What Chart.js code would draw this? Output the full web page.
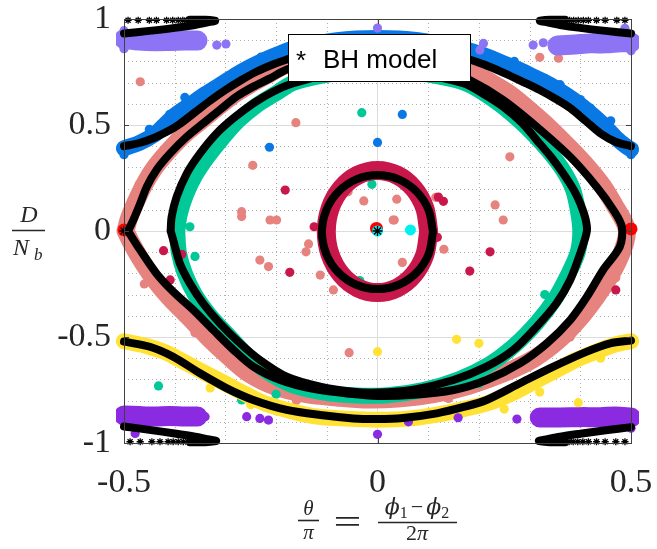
<!DOCTYPE html>
<html><head><meta charset="utf-8">
<script src="https://cdn.jsdelivr.net/npm/chart.js@4.4.1/dist/chart.umd.min.js"></script>
<style>html,body{margin:0;padding:0;background:#fff;}canvas{display:block;}</style>
</head><body>
<canvas id="c" width="657" height="549"></canvas>
<script>
// ---- tick labels ----
const xTicks = [-0.5, 0, 0.5];
const yTicks = [-1, -0.5, 0, 0.5, 1];
const legendLabel = 'BH model';

// ---- BH model curves (black asterisks) ----
const bhBlue = [[-0.5,0.40],[-0.47,0.415],[-0.44,0.44],[-0.41,0.475],[-0.39,0.505],[-0.36,0.56],[-0.33,0.615],[-0.30,0.665],[-0.27,0.71],[-0.24,0.75],[-0.21,0.782],[-0.18,0.808],[-0.12,0.85],[-0.06,0.875],[0,0.883],[0.06,0.875],[0.12,0.85],[0.18,0.81],[0.21,0.785],[0.25,0.745],[0.29,0.70],[0.32,0.665],[0.35,0.625],[0.38,0.58],[0.41,0.52],[0.44,0.46],[0.47,0.42],[0.5,0.40]];
const bhPink = [[-0.492,0.0],[-0.482,0.05],[-0.468,0.13],[-0.455,0.209],[-0.436,0.288],[-0.409,0.366],[-0.376,0.445],[-0.344,0.508],[-0.311,0.571],[-0.278,0.634],[-0.245,0.681],[-0.212,0.72],[-0.179,0.762],[-0.12,0.80],[-0.06,0.82],[0,0.82],[0.06,0.805],[0.12,0.77],[0.182,0.712],[0.248,0.618],[0.314,0.492],[0.38,0.35],[0.432,0.209],[0.465,0.10],[0.482,0.02],[0.478,-0.074],[0.445,-0.184],[0.413,-0.31],[0.38,-0.42],[0.334,-0.53],[0.281,-0.624],[0.215,-0.703],[0.15,-0.75],[0.064,-0.774],[0,-0.778],[-0.054,-0.768],[-0.127,-0.745],[-0.192,-0.703],[-0.245,-0.64],[-0.284,-0.561],[-0.324,-0.467],[-0.363,-0.373],[-0.403,-0.286],[-0.436,-0.2],[-0.468,-0.09],[-0.492,0.0]];
const bhGreen = [[-0.408,0.0],[-0.406,0.067],[-0.396,0.162],[-0.376,0.272],[-0.35,0.366],[-0.317,0.461],[-0.284,0.532],[-0.245,0.602],[-0.206,0.657],[-0.166,0.697],[-0.1,0.735],[0,0.752],[0.08,0.74],[0.169,0.697],[0.21,0.645],[0.248,0.586],[0.285,0.51],[0.314,0.429],[0.342,0.35],[0.366,0.272],[0.388,0.19],[0.40,0.13],[0.41,0.06],[0.413,0.0],[0.40,-0.105],[0.38,-0.231],[0.353,-0.341],[0.314,-0.451],[0.268,-0.561],[0.215,-0.64],[0.15,-0.703],[0.071,-0.748],[0,-0.762],[-0.048,-0.758],[-0.113,-0.734],[-0.179,-0.687],[-0.232,-0.608],[-0.271,-0.53],[-0.311,-0.435],[-0.344,-0.341],[-0.37,-0.247],[-0.39,-0.152],[-0.403,-0.042],[-0.408,0.0]];
const bhInner = [[0.1095,-0.005],[0.101,0.098],[0.0774,0.185],[0.0419,0.2435],[0,0.264],[-0.0419,0.2435],[-0.0774,0.185],[-0.101,0.098],[-0.1095,-0.005],[-0.101,-0.108],[-0.0774,-0.195],[-0.0419,-0.2535],[0,-0.274],[0.0419,-0.2535],[0.0774,-0.195],[0.101,-0.108],[0.1095,-0.005]];
const bhYellow = [[-0.5,-0.522],[-0.449,-0.546],[-0.403,-0.593],[-0.35,-0.671],[-0.297,-0.742],[-0.245,-0.797],[-0.179,-0.844],[-0.113,-0.868],[-0.048,-0.884],[0.0,-0.887],[0.05,-0.882],[0.117,-0.86],[0.17,-0.83],[0.215,-0.797],[0.281,-0.718],[0.347,-0.64],[0.413,-0.569],[0.459,-0.53],[0.5,-0.517]];
const bhTopL = [[-0.5,0.932],[-0.45,0.944],[-0.40,0.958],[-0.36,0.972],[-0.335,0.984],[-0.32,0.992],[-0.34,0.996],[-0.37,0.996]];
const bhTopR = [[0.5,0.932],[0.45,0.944],[0.40,0.958],[0.36,0.972],[0.335,0.984],[0.32,0.992],[0.34,0.996],[0.37,0.996]];
const bhBotL = [[-0.5,-0.922],[-0.45,-0.938],[-0.40,-0.955],[-0.36,-0.97],[-0.335,-0.982],[-0.318,-0.991],[-0.34,-0.996],[-0.37,-0.996]];
const bhBotR = [[0.5,-0.925],[0.45,-0.94],[0.40,-0.956],[0.36,-0.97],[0.335,-0.982],[0.318,-0.991],[0.34,-0.996],[0.37,-0.996]];
const bhEdgeStars = [[-0.492,0.994],[-0.472,0.994],[-0.45,0.994],[-0.436,0.994],[-0.416,0.994],[-0.404,0.994],[-0.393,0.994],[-0.384,0.994],[-0.376,0.994],
  [0.488,0.994],[0.472,0.994],[0.449,0.994],[0.432,0.994],[0.416,0.994],[0.406,0.994],[0.396,0.994],[0.387,0.994],[0.379,0.994],
  [-0.488,-0.994],[-0.468,-0.994],[-0.445,-0.994],[-0.429,-0.994],[-0.413,-0.994],[-0.403,-0.994],[-0.393,-0.994],[-0.383,-0.994],[-0.374,-0.994],
  [0.488,-0.994],[0.47,-0.994],[0.449,-0.994],[0.432,-0.994],[0.416,-0.994],[0.405,-0.994],[0.395,-0.994],[0.386,-0.994],[0.378,-0.994]];
const bhFixed = [[0,0],[-0.5,0]];

// ---- simulation bands and scattered points ----
const blueBand = [[-0.5,0.39],[-0.47,0.415],[-0.44,0.455],[-0.42,0.50],[-0.40,0.545],[-0.37,0.595],[-0.34,0.645],[-0.31,0.69],[-0.28,0.735],[-0.25,0.775],[-0.22,0.81],[-0.19,0.84],[-0.16,0.865],[-0.08,0.90],[0,0.91],[0.08,0.90],[0.16,0.865],[0.19,0.845],[0.22,0.82],[0.25,0.79],[0.28,0.76],[0.31,0.725],[0.34,0.69],[0.37,0.645],[0.40,0.595],[0.43,0.535],[0.45,0.49],[0.47,0.44],[0.49,0.40],[0.5,0.385]];
const blueDots = [[-0.213,0.395],[0,0.418],[0.049,0.55],[0.5,0.36],[-0.5,0.36],[-0.38,0.63],[-0.30,0.72],[-0.23,0.82],[0.27,0.80],[0.33,0.72],[0.42,0.58],[0.46,0.52],[-0.45,0.48],[-0.41,0.55],[0.36,0.69],[0.40,0.62]];
const pinkBand = [[-0.497,0.0],[-0.49,0.06],[-0.478,0.13],[-0.462,0.21],[-0.442,0.29],[-0.415,0.37],[-0.383,0.45],[-0.35,0.515],[-0.318,0.578],[-0.285,0.64],[-0.252,0.69],[-0.218,0.735],[-0.183,0.78],[-0.12,0.82],[0,0.84],[0.12,0.80],[0.19,0.745],[0.225,0.70],[0.262,0.645],[0.30,0.57],[0.34,0.485],[0.38,0.39],[0.415,0.30],[0.445,0.21],[0.468,0.12],[0.485,0.05],[0.492,0.0],[0.488,-0.06],[0.475,-0.14],[0.457,-0.22],[0.432,-0.31],[0.40,-0.41],[0.36,-0.51],[0.31,-0.60],[0.25,-0.67],[0.18,-0.73],[0.11,-0.77],[0.04,-0.79],[-0.02,-0.795],[-0.08,-0.785],[-0.14,-0.77],[-0.2,-0.735],[-0.255,-0.67],[-0.295,-0.59],[-0.335,-0.50],[-0.375,-0.40],[-0.412,-0.31],[-0.443,-0.22],[-0.468,-0.13],[-0.487,-0.05],[-0.497,0.0]];
const pinkDots = [[-0.468,0.704],[-0.161,0.511],[-0.246,0.31],[-0.268,0.091],[-0.268,0.068],[-0.212,0.052],[-0.199,0.052],[-0.058,0.185],[-0.027,0.142],[0.038,0.15],[0.033,0.052],[0.115,0.159],[-0.136,-0.061],[-0.141,-0.098],[0.131,-0.086],[0.049,-0.148],[-0.113,-0.208],[-0.087,-0.278],[-0.056,-0.574],[-0.232,-0.137],[-0.215,-0.168],[0.32,0.819],[0.357,0.815],[0.261,0.35],[0.232,0.123],[0.248,0.052],[0.031,0.052],[-0.47,0.22],[-0.40,0.44],[-0.30,0.64],[-0.46,-0.25],[-0.36,-0.48],[0.47,-0.22],[0.38,-0.50],[-0.16,-0.80],[0.14,-0.79]];
const greenBand = [[-0.395,0.0],[-0.39,0.08],[-0.378,0.17],[-0.36,0.26],[-0.335,0.35],[-0.305,0.44],[-0.275,0.52],[-0.24,0.59],[-0.2,0.65],[-0.165,0.70],[-0.08,0.745],[0,0.76],[0.08,0.745],[0.14,0.72],[0.17,0.70],[0.2,0.665],[0.24,0.60],[0.28,0.52],[0.31,0.45],[0.34,0.37],[0.365,0.29],[0.385,0.20],[0.395,0.10],[0.40,0.0],[0.395,-0.1],[0.375,-0.21],[0.35,-0.32],[0.315,-0.43],[0.27,-0.54],[0.22,-0.63],[0.16,-0.70],[0.09,-0.75],[0.02,-0.775],[-0.05,-0.775],[-0.11,-0.76],[-0.17,-0.725],[-0.22,-0.66],[-0.26,-0.58],[-0.295,-0.49],[-0.33,-0.40],[-0.36,-0.30],[-0.38,-0.20],[-0.392,-0.10],[-0.395,0.0]];
const greenDots = [[-0.031,0.558],[-0.011,0.22],[-0.035,-0.234],[-0.432,-0.731],[-0.268,-0.797],[0.439,0.503],[-0.37,0.02],[-0.36,-0.12],[0.36,0.33],[0.33,-0.30],[-0.2,-0.77],[0.2,-0.72]];
const crimsonBand = [[0.101,-0.0025],[0.0933,0.108],[0.0714,0.201],[0.0387,0.2635],[0,0.2855],[-0.0387,0.2635],[-0.0714,0.201],[-0.0933,0.108],[-0.101,-0.0025],[-0.0933,-0.113],[-0.0714,-0.206],[-0.0387,-0.2685],[0,-0.2905],[0.0387,-0.2685],[0.0714,-0.206],[0.0933,-0.113],[0.101,-0.0025]];
const crimsonDots = [[-0.182,0.193],[-0.173,-0.195],[0.182,-0.189],[0.222,-0.098],[-0.422,-0.093],[-0.386,-0.11],[-0.409,-0.231],[0.47,-0.278],[0.13,0.14],[0.12,0.16],[-0.125,0.02],[0.118,-0.03]];
const yellowBand = [[-0.5,-0.52],[-0.46,-0.54],[-0.42,-0.57],[-0.38,-0.62],[-0.34,-0.67],[-0.30,-0.72],[-0.26,-0.77],[-0.22,-0.815],[-0.17,-0.85],[-0.12,-0.875],[-0.06,-0.885],[0,-0.89],[0.06,-0.885],[0.12,-0.865],[0.17,-0.84],[0.22,-0.81],[0.27,-0.76],[0.31,-0.71],[0.35,-0.66],[0.39,-0.61],[0.43,-0.57],[0.47,-0.535],[0.5,-0.52]];
const yellowDots = [[0.156,-0.511],[0.2,-0.53],[0,-0.569],[0.396,-0.81],[-0.33,-0.74],[-0.25,-0.82],[0.25,-0.84],[0.32,-0.76],[0.44,-0.60]];
const lavenderLeft = [[-0.5,0.905],[-0.47,0.898],[-0.44,0.895],[-0.41,0.896],[-0.38,0.898],[-0.355,0.898]];
const lavenderRight = [[0.355,0.875],[0.39,0.88],[0.42,0.885],[0.45,0.885],[0.48,0.89],[0.5,0.89]];
const lavenderDots = [[-0.317,0.877],[-0.299,0.882],[0,0.957],[0.209,0.885],[0.202,0.854],[0.307,0.877],[0.327,0.888],[0.488,0.956],[-0.5,0.945],[-0.5,0.86],[0.5,0.85]];
const purpleLeft = [[-0.5,-0.87],[-0.47,-0.873],[-0.44,-0.875],[-0.41,-0.873],[-0.38,-0.875],[-0.355,-0.875]];
const purpleRight = [[0.32,-0.88],[0.36,-0.88],[0.40,-0.878],[0.44,-0.878],[0.47,-0.875],[0.5,-0.88]];
const purpleDots = [[-0.478,-0.955],[-0.34,-0.876],[-0.258,-0.876],[-0.232,-0.884],[-0.215,-0.892],[0,-0.959],[0.061,-0.9],[0.159,-0.881],[0.275,-0.887],[0.324,-0.871],[0.5,-0.93]];
const redDots = [[-0.5,0.005],[0.5,0.01],[-0.002,0.012]];
const cyanDots = [[0,0],[0.065,0.005]];

// ---- styles ----
const C = {blue:'#0A78E4', pink:'#E6837E', green:'#00C896', crimson:'#C8174B', yellow:'#FFE234', lavender:'#8C74F5', purple:'#8A2BE2', red:'#FF0000', cyan:'#00F0F0', black:'#000000'};
const pts = a => a.map(p => ({x:p[0], y:p[1]}));
function curve(d, order){ return {data:pts(d), showLine:true, borderColor:C.black, backgroundColor:C.black, borderWidth:8, pointRadius:0, tension:0.3, order, clip:6, borderJoinStyle:'round', borderCapStyle:'round'}; }
function band(d, col, w, order){ return {data:pts(d), showLine:true, borderColor:col, backgroundColor:col, borderWidth:w, pointRadius:5.5, pointBorderWidth:0, tension:0.3, order, clip:8, borderJoinStyle:'round', borderCapStyle:'round'}; }
function dots(d, col, r, order){ return {data:pts(d), showLine:false, borderColor:col, backgroundColor:col, pointRadius:r, pointBorderWidth:0, order, clip:10}; }
function stars(d, r, order){ return {data:pts(d), showLine:false, pointStyle:'star', borderColor:C.black, backgroundColor:C.black, pointRadius:r, pointBorderWidth:1.3, order, clip:8}; }

const datasets = [
  band(pinkBand, C.pink, 18, 30), dots(pinkDots, C.pink, 4.6, 29),
  band(greenBand, C.green, 16, 28), dots(greenDots, C.green, 4.6, 27),
  band(blueBand, C.blue, 16, 26), dots(blueDots, C.blue, 4.6, 25),
  band(yellowBand, C.yellow, 16, 24), dots(yellowDots, C.yellow, 4.6, 23),
  band(lavenderLeft, C.lavender, 20, 22), band(lavenderRight, C.lavender, 20, 22), dots(lavenderDots, C.lavender, 4.6, 21),
  band(purpleLeft, C.purple, 20, 20), band(purpleRight, C.purple, 20, 20), dots(purpleDots, C.purple, 4.6, 19),
  band(crimsonBand, C.crimson, 19, 18), dots(crimsonDots, C.crimson, 4.6, 17),
  dots(redDots, C.red, 6.5, 5), dots(cyanDots, C.cyan, 5.5, 4),
  Object.assign(curve(bhBlue, 3), {label: legendLabel}), curve(bhPink, 3), curve(bhGreen, 3), curve(bhInner, 3), curve(bhYellow, 3),
  curve(bhTopL, 3), curve(bhTopR, 3), curve(bhBotL, 3), curve(bhBotR, 3),
  stars(bhEdgeStars, 3.6, 2), stars(bhFixed, 5, 1)
];

const AX = '#404040';
const decor = {
  id:'decor',
  beforeDatasetsDraw(chart){
    const {ctx, chartArea:a, scales:{x, y}} = chart;
    ctx.save();
    ctx.strokeStyle = '#b0b0b0'; ctx.lineWidth = 1; ctx.setLineDash([1,3]);
    for (let i=-4;i<=4;i++){ if(i===0) continue; const px=Math.round(x.getPixelForValue(i/10))+0.5; ctx.beginPath(); ctx.moveTo(px,a.top); ctx.lineTo(px,a.bottom); ctx.stroke(); }
    for (let j=-9;j<=9;j++){ if(j%5===0) continue; const py=Math.round(y.getPixelForValue(j/10))+0.5; ctx.beginPath(); ctx.moveTo(a.left,py); ctx.lineTo(a.right,py); ctx.stroke(); }
    ctx.restore();
  },
  afterDatasetsDraw(chart){
    const {ctx, chartArea:a, scales:{x, y}} = chart;
    ctx.save();
    ctx.strokeStyle = AX; ctx.lineWidth = 1;
    ctx.strokeRect(Math.round(a.left)+0.5, Math.round(a.top)+0.5, Math.round(a.right-a.left), Math.round(a.bottom-a.top));
    ctx.beginPath();
    xTicks.forEach(v=>{ const px=Math.round(x.getPixelForValue(v))+0.5; ctx.moveTo(px,a.bottom); ctx.lineTo(px,a.bottom-5); ctx.moveTo(px,a.top); ctx.lineTo(px,a.top+5); });
    yTicks.forEach(v=>{ const py=Math.round(y.getPixelForValue(v))+0.5; ctx.moveTo(a.left,py); ctx.lineTo(a.left+5,py); ctx.moveTo(a.right,py); ctx.lineTo(a.right-5,py); });
    ctx.stroke();
    ctx.restore();
  },
  afterDraw(chart){
    const ctx = chart.ctx;
    ctx.save();
    ctx.fillStyle = '#262626'; ctx.strokeStyle = '#262626'; ctx.textBaseline = 'alphabetic';
    // y-axis title D / N_b
    ctx.font = 'italic 24px "Liberation Serif"'; ctx.textAlign = 'center';
    ctx.fillText('D', 29, 222);
    ctx.lineWidth = 1.6; ctx.beginPath(); ctx.moveTo(12,230.5); ctx.lineTo(45,230.5); ctx.stroke();
    ctx.textAlign = 'left'; ctx.fillText('N', 13, 255);
    ctx.font = 'italic 17px "Liberation Serif"'; ctx.fillText('b', 34, 260);
    // x-axis title  θ/π = (ϕ1−ϕ2)/(2π)
    ctx.font = 'italic 21px "Liberation Serif"'; ctx.textAlign = 'center';
    ctx.fillText('θ', 308.5, 515);
    ctx.fillText('π', 308.5, 539);
    ctx.beginPath(); ctx.moveTo(298,520.5); ctx.lineTo(319,520.5); ctx.stroke();
    ctx.save(); ctx.translate(347.5, 533); ctx.scale(1.5,1); ctx.font = '33px "Liberation Serif"'; ctx.fillText('=', 0, 0); ctx.restore();
    const parts = [['ϕ','italic 22px "DejaVu Serif"',0,0],['1','16px "Liberation Serif"',4,3],['−','22px "Liberation Serif"',0,3],['ϕ','italic 22px "DejaVu Serif"',0,0],['2','16px "Liberation Serif"',4,0]];
    let tot = 0; parts.forEach(p=>{ ctx.font=p[1]; p.push(ctx.measureText(p[0]).width); tot += p[4] + p[3]; });
    let cx = 417 - tot/2; ctx.textAlign = 'left';
    parts.forEach(p=>{ ctx.font=p[1]; ctx.fillText(p[0], cx, 514 + p[2]); cx += p[4] + p[3]; });
    ctx.beginPath(); ctx.moveTo(378,522.5); ctx.lineTo(457,522.5); ctx.stroke();
    ctx.font = '22px "Liberation Serif"'; const w2 = ctx.measureText('2').width;
    ctx.font = 'italic 22px "Liberation Serif"'; const wp = ctx.measureText('π').width;
    const sx = 417 - (w2+wp)/2;
    ctx.font = '22px "Liberation Serif"'; ctx.fillText('2', sx, 540);
    ctx.font = 'italic 22px "Liberation Serif"'; ctx.fillText('π', sx + w2, 540);
    // legend box
    ctx.fillStyle = '#ffffff'; ctx.fillRect(288,34,182,47);
    ctx.strokeStyle = '#000000'; ctx.lineWidth = 1; ctx.strokeRect(288.5,34.5,182,47);
    ctx.fillStyle = '#000000'; ctx.font = '26px "Liberation Sans"'; ctx.textAlign = 'left';
    ctx.fillText('*', 296, 69);
    ctx.fillText(legendLabel, 323, 68);
    ctx.restore();
  }
};

const tickFont = {family:'"Liberation Serif"', size:34};
new Chart(document.getElementById('c'), {
  type:'scatter',
  data:{datasets},
  options:{
    responsive:false, animation:false, events:[],
    layout:{padding:{left:0, right:26, top:19, bottom:0}},
    plugins:{legend:{display:false}, tooltip:{enabled:false}},
    scales:{
      x:{type:'linear', min:-0.5, max:0.5,
         afterBuildTicks(s){ s.ticks = xTicks.map(v=>({value:v})); },
         ticks:{font:tickFont, color:'#262626', padding:20, maxRotation:0, autoSkip:false, callback:v=>String(v)},
         grid:{color:'#dcdcdc', drawTicks:false}, border:{display:false},
         afterFit(s){ s.height = 106; s.paddingLeft = 0; s.paddingRight = 0; }},
      y:{type:'linear', min:-1, max:1,
         afterBuildTicks(s){ s.ticks = yTicks.map(v=>({value:v})); },
         ticks:{font:tickFont, color:'#262626', padding:13, autoSkip:false, callback:v=>String(v)},
         grid:{color:'#dcdcdc', drawTicks:false}, border:{display:false},
         afterFit(s){ s.width = 124; s.paddingTop = 0; s.paddingBottom = 0; }}
    }
  },
  plugins:[decor]
});
</script>
</body></html>
